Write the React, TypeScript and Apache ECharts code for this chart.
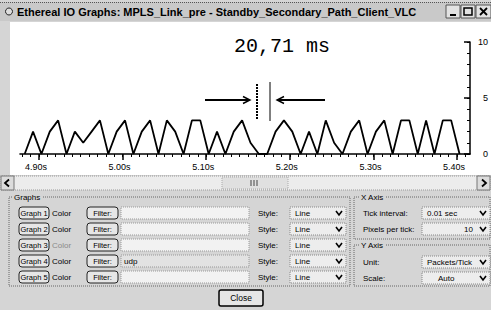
import React, { useEffect, useRef } from "react";
import * as echarts from "echarts";

const TITLE = "Ethereal IO Graphs: MPLS_Link_pre - Standby_Secondary_Path_Client_VLC";
const MEASURE_TEXT = "20,71 ms";

// packets per tick (0.01 s), first sample at 4.883 s
const TIME_START = 4.883;
const TIME_STEP = 0.01;
const PACKETS = [
  0, 2, 0, 2, 3, 0, 2, 1, 2, 3,
  0, 2, 3, 0, 2, 3, 0, 3, 2, 0,
  3, 3, 0, 2, 0, 2, 3, 1, 0, 0,
  2, 3, 2, 0, 2, 0, 3, 1, 0, 2,
  3, 0, 2, 3, 0, 3, 3, 0, 3, 0,
  3, 3, 0,
];

const X_MIN = 4.8774;
const X_MAX = 5.4155;
const X_MAJOR = [4.9, 5.0, 5.1, 5.2, 5.3, 5.4];
const X_LABELS = ["4.90s", "5.00s", "5.10s", "5.20s", "5.30s", "5.40s"];
const X_MINOR_FIRST = 4.88;
const X_MINOR_COUNT = 54;

const Y_MAX = 10;

const GRAPH_NAMES = ["Graph 1", "Graph 2", "Graph 3", "Graph 4", "Graph 5"];
const GRAPH_FILTERS = ["", "", "", "udp", ""];
const GRAPH_STYLES = ["Line", "Line", "Line", "Line", "Line"];

const UI_FONT = "'Liberation Sans', Arial, sans-serif";
const BG = "#d5d5d5";

function txt(x: number, y: number, text: string, o: any = {}) {
  return {
    type: "text",
    x,
    y,
    z: 20,
    style: {
      text,
      fill: o.fill || "#000",
      font: `${o.weight || "normal"} ${o.size || 8.5}px ${o.family || UI_FONT}`,
      textAlign: o.align || "left",
      textVerticalAlign: "middle",
      verticalAlign: "middle",
    },
  };
}

function rect(x: number, y: number, w: number, h: number, o: any = {}) {
  return {
    type: "rect",
    z: o.z ?? 10,
    shape: { x, y, width: w, height: h, r: o.r || 0 },
    style: {
      fill: o.fill ?? "none",
      stroke: o.stroke ?? "none",
      lineWidth: o.lw ?? 1,
      lineDash: o.dash,
    },
  };
}

function line(x1: number, y1: number, x2: number, y2: number, o: any = {}) {
  return {
    type: "line",
    z: 20,
    shape: { x1, y1, x2, y2 },
    style: { stroke: o.stroke || "#000", lineWidth: o.lw ?? 1, lineDash: o.dash },
  };
}

function poly(points: number[][], o: any = {}) {
  return {
    type: "polyline",
    z: 20,
    shape: { points },
    style: { stroke: o.stroke || "#000", lineWidth: o.lw ?? 1.5, fill: "none" },
  };
}

function combo(x: number, cy: number, w: number, text: string, align = "left", textX?: number) {
  const els: any[] = [
    rect(x, cy - 6, w, 12, { fill: "#ededed", stroke: "#888", dash: [1, 1] }),
  ];
  if (align === "right") els.push(txt(x + w - 17, cy, text, { align: "right", size: 8 }));
  else els.push(txt(textX ?? x + 5, cy, text, { size: 8 }));
  els.push(poly([[x + w - 10, cy - 2], [x + w - 7, cy + 2], [x + w - 4, cy - 2]], { lw: 1.6 }));
  return els;
}

function button(x: number, cy: number, w: number, text: string) {
  return [
    rect(x, cy - 6, w, 12, { fill: "#e6e6e6", stroke: "#222", r: 3 }),
    txt(x + w / 2, cy, text, { align: "center", size: 7.5 }),
  ];
}

function buildGraphics() {
  const els: any[] = [];
  // plot area
  els.push(rect(10, 22, 481, 153, { fill: "#ffffff", z: -1 }));
  // title bar
  els.push(rect(0, 2, 491, 19, { fill: "#c9c9c9", z: 5 }));
  els.push(line(0, 2.5, 491, 2.5, { stroke: "#555", dash: [1, 1] }));
  els.push({
    type: "circle",
    z: 20,
    shape: { cx: 9, cy: 11.5, r: 3.5 },
    style: { fill: "#ddd", stroke: "#222", lineWidth: 1 },
  });
  els.push(txt(17, 12, TITLE, { weight: "bold", size: 11 }));
  els.push(rect(446, 5, 14, 13, { fill: "#e2e2e2", stroke: "#555" }));
  els.push(line(450, 15, 456, 15, { lw: 2 }));
  els.push(rect(461, 5, 14, 13, { fill: "#e2e2e2", stroke: "#555" }));
  els.push(rect(464, 8, 8, 7, { stroke: "#000", lw: 1.5, z: 20 }));
  els.push(rect(476, 5, 15, 13, { fill: "#e2e2e2", stroke: "#555" }));
  els.push(line(480, 8, 487, 15, { lw: 1.8 }));
  els.push(line(487, 8, 480, 15, { lw: 1.8 }));

  // measurement annotation
  const m = txt(282, 46, MEASURE_TEXT, { size: 20, family: "'Liberation Mono', 'DejaVu Sans Mono', monospace" });
  m.style.textAlign = "center";
  els.push(m);
  els.push(line(205, 100, 249, 100, { lw: 2 }));
  els.push(poly([[243, 96.5], [250, 100], [243, 103.5]], { lw: 1.4 }));
  els.push(line(325, 100, 278, 100, { lw: 2 }));
  els.push(poly([[284, 96.5], [277, 100], [284, 103.5]], { lw: 1.4 }));
  els.push(line(257, 84, 257, 120, { lw: 2, dash: [2, 1] }));
  els.push(line(270, 82, 270, 121, { lw: 1 }));

  // scrollbar
  els.push(rect(0, 176, 491, 14, { fill: "#ececec", stroke: "#999", dash: [1, 1] }));
  els.push(rect(1, 176, 13, 14, { fill: "#dcdcdc", stroke: "#777" }));
  els.push(poly([[9, 179.5], [5, 183], [9, 186.5]], { lw: 1.8 }));
  els.push(rect(477, 176, 13, 14, { fill: "#dcdcdc", stroke: "#777" }));
  els.push(poly([[482, 179.5], [486, 183], [482, 186.5]], { lw: 1.8 }));
  els.push(rect(222, 177, 66, 12, { fill: "#e0e0e0", stroke: "#aaa", dash: [1, 1] }));
  els.push(line(251, 180, 251, 186, { stroke: "#444" }));
  els.push(line(254, 180, 254, 186, { stroke: "#444" }));
  els.push(line(257, 180, 257, 186, { stroke: "#444" }));

  // Graphs group
  els.push(rect(9, 197, 341, 89, { stroke: "#666", dash: [1, 1] }));
  els.push(rect(12, 192, 30, 10, { fill: BG, z: 12 }));
  els.push(txt(14, 197, "Graphs", { size: 8 }));
  const rows = [213, 229, 245, 261, 277];
  rows.forEach((cy, i) => {
    els.push(...button(19, cy, 30, GRAPH_NAMES[i]));
    els.push(txt(52, cy, "Color", { size: 8, fill: i === 2 ? "#8a8a8a" : "#000" }));
    els.push(...button(87, cy, 31, "Filter:"));
    els.push(rect(121, cy - 6, 128, 12, { fill: i === 3 ? "#e2e2e2" : "#f2f2f2", stroke: "#999", dash: [1, 1] }));
    if (GRAPH_FILTERS[i]) els.push(txt(124, cy, GRAPH_FILTERS[i], { size: 8 }));
    els.push(txt(258, cy, "Style:", { size: 8 }));
    els.push(...combo(290, cy, 56, GRAPH_STYLES[i]));
  });

  // X Axis group
  els.push(rect(354, 197, 136, 42, { stroke: "#666", dash: [1, 1] }));
  els.push(rect(359, 192, 26, 10, { fill: BG, z: 12 }));
  els.push(txt(361, 197, "X Axis", { size: 8 }));
  els.push(txt(363, 213, "Tick interval:", { size: 8 }));
  els.push(...combo(422, 213, 68, "0.01 sec"));
  els.push(txt(363, 229, "Pixels per tick:", { size: 8 }));
  els.push(...combo(422, 229, 68, "10", "right"));

  // Y Axis group
  els.push(rect(354, 245, 136, 41, { stroke: "#666", dash: [1, 1] }));
  els.push(rect(359, 240, 26, 10, { fill: BG, z: 12 }));
  els.push(txt(361, 245, "Y Axis", { size: 8 }));
  els.push(txt(363, 262, "Unit:", { size: 8 }));
  els.push(...combo(422, 262, 68, "Packets/Tick"));
  els.push(txt(363, 278, "Scale:", { size: 8 }));
  els.push(...combo(422, 278, 68, "Auto", "left", 438));

  // Close button
  els.push(rect(219, 290, 44, 16, { fill: "#e6e6e6", stroke: "#000", lw: 1.5, r: 2 }));
  els.push(txt(241, 298, "Close", { size: 8.5, align: "center" }));
  return els;
}

export default function App() {
  const ref = useRef<HTMLDivElement>(null);

  useEffect(() => {
    if (!ref.current) return;
    const chart = echarts.init(ref.current, undefined, { renderer: "svg" });
    const data = PACKETS.map((v, i) => [TIME_START + i * TIME_STEP, v]);
    const minorTicks = Array.from({ length: X_MINOR_COUNT }, (_, i) =>
      Math.round((X_MINOR_FIRST + i * 0.01) * 100) / 100
    );
    chart.setOption({
      animation: false,
      backgroundColor: BG,
      grid: { left: 20, top: 42, width: 452, height: 112, containLabel: false },
      xAxis: [
        {
          type: "value",
          min: X_MIN,
          max: X_MAX,
          position: "bottom",
          axisLine: { show: true, onZero: false, lineStyle: { color: "#000", width: 1.6 } },
          axisTick: { show: true, customValues: minorTicks, length: 3, lineStyle: { color: "#000", width: 1 } },
          axisLabel: { show: false },
          splitLine: { show: false },
        },
        {
          type: "value",
          min: X_MIN,
          max: X_MAX,
          position: "bottom",
          axisLine: { show: false, onZero: false },
          axisTick: { show: true, customValues: X_MAJOR, length: 6, lineStyle: { color: "#000", width: 1.5 } },
          axisLabel: {
            show: true,
            customValues: X_MAJOR,
            formatter: (v: number) => {
              const idx = X_MAJOR.findIndex((mm) => Math.abs(mm - v) < 1e-6);
              return idx >= 0 ? X_LABELS[idx] : "";
            },
            color: "#000",
            fontSize: 9,
            fontFamily: UI_FONT,
            margin: 8,
            padding: [0, 6, 0, 0],
          },
          splitLine: { show: false },
        },
      ],
      yAxis: [
        {
          type: "value",
          min: 0,
          max: Y_MAX,
          interval: 1,
          position: "right",
          axisLine: { show: true, onZero: false, lineStyle: { color: "#000", width: 1.5 } },
          axisTick: { show: true, inside: true, length: 3, lineStyle: { color: "#000", width: 1 } },
          axisLabel: { show: false },
          splitLine: { show: false },
        },
        {
          type: "value",
          min: 0,
          max: Y_MAX,
          interval: 5,
          position: "right",
          axisLine: { show: false },
          axisTick: { show: true, inside: true, length: 6, lineStyle: { color: "#000", width: 1.5 } },
          axisLabel: { show: true, align: "right", margin: 18, color: "#000", fontSize: 9, fontFamily: UI_FONT },
          splitLine: { show: false },
        },
      ],
      series: [
        {
          type: "line",
          xAxisIndex: 0,
          yAxisIndex: 0,
          data,
          symbol: "none",
          showSymbol: false,
          lineStyle: { color: "#000", width: 1.8 },
          z: 5,
        },
      ],
      graphic: { elements: buildGraphics() },
    });
    return () => chart.dispose();
  }, []);

  return (
    <div
      ref={ref}
      style={{ position: "fixed", left: 0, top: 0, width: 491, height: 310 }}
    />
  );
}
